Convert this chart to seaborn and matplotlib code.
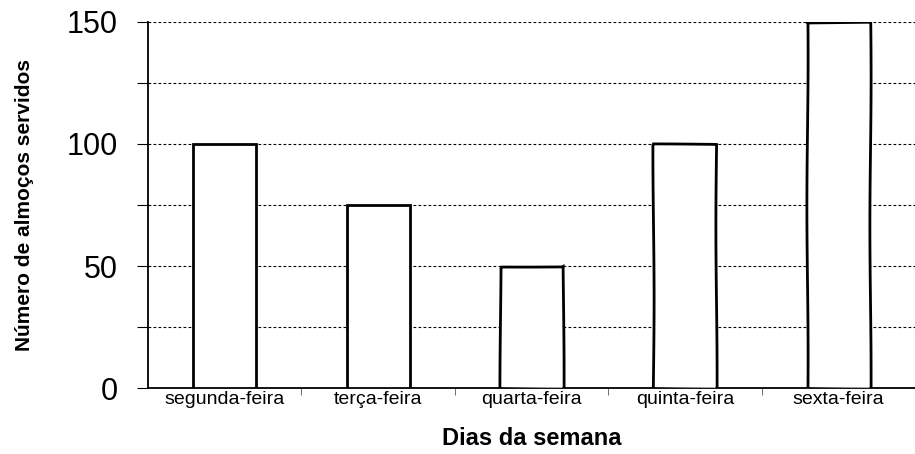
import matplotlib
matplotlib.use("Agg")
import matplotlib.pyplot as plt
import seaborn as sns
import pandas as pd
import numpy as np

dias = ["segunda-feira", "terça-feira", "quarta-feira", "quinta-feira", "sexta-feira"]
almocos = [100, 75, 50, 100, 150]
y_ticks = [0, 50, 100, 150]
y_minor = [25, 75, 125]

sns.set_style("white")
plt.rcParams["font.family"] = ["Liberation Sans", "DejaVu Sans"]
plt.rcParams["text.color"] = "black"
plt.rcParams["axes.labelcolor"] = "black"
plt.rcParams["xtick.color"] = "black"
plt.rcParams["ytick.color"] = "black"

df = pd.DataFrame({"dia": dias, "almocos": almocos})

fig = plt.figure(figsize=(9.15, 4.54), dpi=100)
ax = fig.add_axes([148 / 915, 1 - 388 / 454, 1 - 148 / 915, (388 - 22) / 454])

sns.barplot(data=df, x="dia", y="almocos", color="white", edgecolor="black",
            linewidth=2, width=0.41, ax=ax, zorder=3)
for i, p in enumerate(ax.patches):
    p.set_facecolor("white")
    if i >= 2:
        p.set_sketch_params(0.6, 300, 1.0)

ax.set_ylim(0, 150)
ax.set_xlim(-0.5, 4.464)
ax.set_yticks(y_ticks)
ax.set_yticks(y_minor, minor=True)
ax.set_xticks(np.arange(len(dias)) + 0.5, minor=True)

ax.grid(False)
for v in y_ticks[1:] + y_minor:
    ax.axhline(v, color="black", linewidth=0.8, linestyle=(0, (2.5, 2)), zorder=1)

ax.tick_params(axis="y", which="both", direction="out", length=8, width=0.8,
               left=True, color="black", labelcolor="black")
ax.tick_params(axis="y", which="major", labelsize=22, pad=14)
ax.tick_params(axis="x", which="major", length=0, labelsize=14, pad=2, labelcolor="black")
ax.tick_params(axis="x", which="minor", direction="out", length=5, width=0.6,
               bottom=True, color="#555555")

for s in ["top", "right"]:
    ax.spines[s].set_visible(False)
for s in ["left", "bottom"]:
    ax.spines[s].set_color("black")
    ax.spines[s].set_linewidth(1.3)

ax.set_xlabel("Dias da semana", fontsize=17, fontweight="bold", labelpad=14, color="black")
ax.set_ylabel("Número de almoços servidos", fontsize=15, fontweight="bold", color="black")
ax.yaxis.set_label_coords(-0.148, 0.5)

fig.savefig("out.png", dpi=100)
